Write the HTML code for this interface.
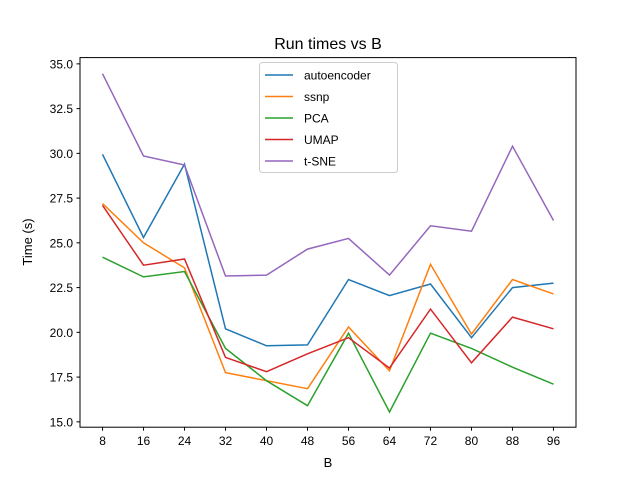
<!DOCTYPE html>
<html><head><meta charset="utf-8"><style>
body{margin:0;background:#fff;}
svg{display:block;font-family:"Liberation Sans","DejaVu Sans",sans-serif;}
</style></head><body>
<svg id="chart" width="640" height="480" xmlns="http://www.w3.org/2000/svg">
<rect width="640" height="480" fill="#fff"/>
<text x="328" y="49" font-size="16" text-anchor="middle">Run times vs B</text>
<g id="grid"></g>
<g id="lines"></g>
<rect x="80" y="57.6" width="496" height="369.6" fill="none" stroke="#000" stroke-width="1"/>
<text x="328" y="467" font-size="13" text-anchor="middle">B</text>
<text x="32" y="242" font-size="13" text-anchor="middle" transform="rotate(-90 32 242)">Time (s)</text>
<g id="legend"></g>
</svg>
<script>
const categories=[8,16,24,32,40,48,56,64,72,80,88,96];
const seriesNames=["autoencoder","ssnp","PCA","UMAP","t-SNE"];
const colors=["#1f77b4","#ff7f0e","#2ca02c","#d62728","#9467bd"];
const autoencoder=[29.95,25.3,29.4,20.2,19.25,19.3,22.95,22.05,22.7,19.7,22.5,22.75];
const ssnp=[27.2,25.0,23.6,17.75,17.3,16.85,20.3,17.85,23.8,19.9,22.95,22.15];
const pca=[24.2,23.1,23.4,19.1,17.3,15.9,19.95,15.55,19.95,19.1,18.05,17.1];
const umap=[27.1,23.75,24.1,18.6,17.8,18.8,19.7,18.0,21.3,18.3,20.85,20.2];
const tsne=[34.45,29.85,29.35,23.15,23.2,24.65,25.25,23.2,25.95,25.65,30.4,26.25];
const yTicks=[15.0,17.5,20.0,22.5,25.0,27.5,30.0,32.5,35.0];
const allSeries=[autoencoder,ssnp,pca,umap,tsne];
const NS="http://www.w3.org/2000/svg";
const L=80,R=576,T=57.6,B=427.2;
const xMin=3.6,xMax=100.4,yMin=14.7,yMax=35.35;
function xs(v){return L+(v-xMin)/(xMax-xMin)*(R-L);}
function ys(v){return B-(v-yMin)/(yMax-yMin)*(B-T);}
function mk(tag,attrs,parent){const e=document.createElementNS(NS,tag);for(const k in attrs)e.setAttribute(k,attrs[k]);parent.appendChild(e);return e;}
const grid=document.getElementById('grid');
categories.forEach(c=>{
  const x=xs(c);
  const t=mk('line',{x1:x,x2:x,y1:B,y2:B+3.5,stroke:'#000'},grid);
  
  
  const lb=mk('text',{x:x,y:B+18,'font-size':12,'text-anchor':'middle'},grid);
  lb.textContent=c;
  
  
});
yTicks.forEach(v=>{
  const y=ys(v);
  const t=mk('line',{x1:L-3.5,x2:L,y1:y,y2:y,stroke:'#000'},grid);
  
  
  const lb=mk('text',{x:L-7,y:y+4.5,'font-size':12,'text-anchor':'end'},grid);
  lb.textContent=v.toFixed(1);
  
  
});
const lines=document.getElementById('lines');
allSeries.forEach((s,i)=>{
  const pts=s.map((v,j)=>xs(categories[j]).toFixed(1)+','+ys(v).toFixed(1)).join(' ');
  const p=mk('polyline',{points:pts,fill:'none',stroke:colors[i],'stroke-width':1.5},lines);
  
  
});
const lg=document.getElementById('legend');
const box=mk('rect',{x:259.5,y:62.5,width:138,height:110,rx:3,fill:'#fff','fill-opacity':0.8,stroke:'#ccc'},lg);


seriesNames.forEach((n,i)=>{
  const y=75+i*21.5;
  const g=mk('g',{},lg);
  
  
  mk('line',{x1:265,x2:293,y1:y,y2:y,stroke:colors[i],'stroke-width':1.5},g);
  const t=mk('text',{x:304,y:y+4.5,'font-size':12},g);
  t.textContent=n;
});
</script>
</body></html>
